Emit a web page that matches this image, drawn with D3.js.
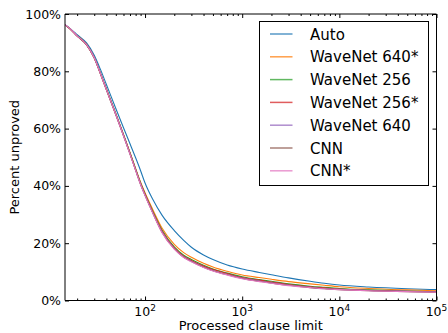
<!DOCTYPE html>
<html>
<head>
<meta charset="utf-8">
<script src="https://d3js.org/d3.v7.min.js"></script>
<style>
  body { margin: 0; background: #fff; }
  text { font-family: "DejaVu Sans", sans-serif; fill: #000; }
</style>
</head>
<body>
<div id="chart"></div>
<script>
// data (percent unproved vs clause limit)
var limits = [15, 17, 20, 25, 30, 35, 40, 50, 60, 70, 80, 90, 100, 120, 150, 200, 250, 300, 400, 500, 700, 1000, 1500, 2000, 3000, 5000, 7000, 10000, 20000, 50000, 100000];

var auto        = [96.3, 94.9, 92.8, 89.9, 85.6, 80.4, 75.4, 67.0, 60.3, 54.7, 49.8, 45.3, 41.0, 35.3, 29.7, 24.4, 21.0, 18.6, 15.9, 14.3, 12.4, 11.0, 9.8, 9.0, 7.9, 6.7, 6.0, 5.4, 4.7, 4.1, 3.8];
var wavenet640s = [96.2, 94.7, 92.4, 89.3, 84.6, 78.9, 73.6, 65.0, 57.8, 51.6, 46.0, 41.3, 37.6, 31.8, 25.2, 19.6, 16.7, 15.1, 13.0, 11.7, 10.2, 8.9, 8.0, 7.4, 6.6, 5.8, 5.3, 4.8, 4.2, 3.7, 3.4];
var wavenet256  = [96.3, 94.8, 92.5, 89.4, 84.8, 79.1, 73.9, 65.3, 58.0, 51.6, 45.9, 41.0, 37.2, 31.2, 24.5, 18.7, 15.8, 14.3, 12.3, 11.0, 9.6, 8.3, 7.3, 6.7, 5.8, 5.0, 4.6, 4.2, 3.7, 3.3, 3.1];
var wavenet256s = [96.2, 94.7, 92.4, 89.3, 84.7, 79.0, 73.8, 65.1, 57.8, 51.4, 45.7, 40.8, 37.0, 30.9, 24.2, 18.4, 15.5, 14.0, 12.0, 10.8, 9.4, 8.0, 7.1, 6.4, 5.6, 4.8, 4.4, 4.0, 3.6, 3.2, 3.0];
var wavenet640  = [96.3, 94.8, 92.4, 89.3, 84.7, 78.9, 73.6, 64.9, 57.6, 51.2, 45.5, 40.6, 36.8, 30.7, 23.9, 18.1, 15.2, 13.7, 11.7, 10.5, 9.1, 7.8, 6.8, 6.2, 5.4, 4.6, 4.2, 3.9, 3.5, 3.2, 3.0];
var cnn         = [96.2, 94.7, 92.3, 89.2, 84.6, 78.8, 73.5, 64.8, 57.5, 51.1, 45.4, 40.5, 36.7, 30.6, 23.7, 18.0, 15.1, 13.6, 11.6, 10.4, 9.0, 7.7, 6.7, 6.1, 5.3, 4.5, 4.1, 3.8, 3.4, 3.1, 2.9];
var cnns        = [96.3, 94.8, 92.4, 89.3, 84.7, 78.9, 73.6, 64.9, 57.5, 51.1, 45.4, 40.5, 36.6, 30.5, 23.6, 17.9, 15.0, 13.5, 11.5, 10.3, 8.9, 7.6, 6.6, 6.0, 5.2, 4.5, 4.1, 3.8, 3.4, 3.1, 2.9];

var seriesNames = ["Auto", "WaveNet 640*", "WaveNet 256", "WaveNet 256*", "WaveNet 640", "CNN", "CNN*"];
var seriesValues = [auto, wavenet640s, wavenet256, wavenet256s, wavenet640, cnn, cnns];
var colors = ["#1f77b4", "#ff7f0e", "#2ca02c", "#d62728", "#9467bd", "#8c564b", "#e377c2"];

var yTicks = [0, 20, 40, 60, 80, 100];
var xTicks = [100, 1000, 10000, 100000];
var xTickExp = ["2", "3", "4", "5"];

// Step 1: chart size
var svg_width = 448;
var svg_height = 333;
var margin = { top: 14, right: 11.5, bottom: 32.5, left: 65 };
var width = svg_width - margin.left - margin.right;
var height = svg_height - margin.top - margin.bottom;

var svg = d3.select("#chart").append("svg")
  .attr("width", svg_width)
  .attr("height", svg_height);

var chartGroup = svg.append("g")
  .attr("transform", `translate(${margin.left}, ${margin.top})`);

// Step 2: scales
var xScale = d3.scaleLog().domain([15, 100000]).range([0, width]);
var yScale = d3.scaleLinear().domain([0, 100]).range([height, 0]);

// Step 3: lines
var line = d3.line()
  .x(function(d, i) { return xScale(limits[i]); })
  .y(function(d) { return yScale(d); })
  .curve(d3.curveMonotoneX);

svg.append("clipPath").attr("id", "plotclip")
  .append("rect").attr("width", width).attr("height", height);

chartGroup.append("g")
  .attr("clip-path", "url(#plotclip)")
  .selectAll("path")
  .data(seriesValues)
  .enter()
  .append("path")
  .attr("d", d => line(d))
  .attr("fill", "none")
  .attr("stroke", (d, i) => colors[i])
  .attr("stroke-width", 1.1);

// Step 4: axes (ticks pointing inward on all four sides)
var minorTicks = [];
[10, 100, 1000, 10000].forEach(function(base) {
  for (var k = 2; k <= 9; k++) {
    var v = base * k;
    if (v >= 15 && v <= 100000) minorTicks.push(v);
  }
});

var bottomAxis = d3.axisBottom(xScale).tickValues(xTicks).tickSize(-4).tickFormat("");
var topAxis = d3.axisTop(xScale).tickValues(xTicks).tickSize(-4).tickFormat("");
var bottomMinor = d3.axisBottom(xScale).tickValues(minorTicks).tickSize(-2).tickFormat("");
var topMinor = d3.axisTop(xScale).tickValues(minorTicks).tickSize(-2).tickFormat("");
var leftAxis = d3.axisLeft(yScale).tickValues(yTicks).tickSize(-4).tickPadding(4).tickFormat(d => d + "%");
var rightAxis = d3.axisRight(yScale).tickValues(yTicks).tickSize(-4).tickFormat("");

function styleAxis(g) {
  g.select(".domain").remove();
  g.selectAll(".tick line").attr("stroke", "#000").attr("stroke-width", 1);
}

chartGroup.append("g").attr("transform", `translate(0, ${height})`).call(bottomAxis).call(styleAxis);
chartGroup.append("g").attr("transform", `translate(0, ${height})`).call(bottomMinor).call(styleAxis);
chartGroup.append("g").call(topAxis).call(styleAxis);
chartGroup.append("g").call(topMinor).call(styleAxis);
chartGroup.append("g").attr("transform", `translate(${width}, 0)`).call(rightAxis).call(styleAxis);

var leftG = chartGroup.append("g").call(leftAxis).call(styleAxis);
leftG.selectAll(".tick text")
  .style("font-family", "DejaVu Sans")
  .style("font-size", "12.5px")
  .attr("fill", "#000");

// x tick labels as 10^n
var xLabels = chartGroup.append("g").selectAll("text")
  .data(xTicks)
  .enter()
  .append("text")
  .attr("x", d => xScale(d))
  .attr("y", height + 15)
  .attr("text-anchor", "middle")
  .style("font-size", "12.5px");
xLabels.append("tspan").text("10");
xLabels.append("tspan")
  .attr("dy", -5)
  .style("font-size", "9px")
  .text((d, i) => xTickExp[i]);

// frame: left/top sit on whole pixels like the original (soft grey), right/bottom crisp
var frame = [
  [0, 0, 0, height],
  [0, 0, width, 0],
  [width, 0, width, height],
  [0, height, width, height]
];
chartGroup.selectAll("line.frame")
  .data(frame)
  .enter()
  .append("line")
  .attr("class", "frame")
  .attr("x1", d => d[0]).attr("y1", d => d[1])
  .attr("x2", d => d[2]).attr("y2", d => d[3])
  .attr("stroke", "#000")
  .attr("stroke-width", 1);

// axis titles
chartGroup.append("text")
  .attr("transform", "rotate(-90)")
  .attr("x", -height / 2)
  .attr("y", -margin.left + 19)
  .attr("text-anchor", "middle")
  .style("font-size", "13px")
  .text("Percent unproved");

chartGroup.append("text")
  .attr("x", width / 2)
  .attr("y", height + 29)
  .attr("text-anchor", "middle")
  .style("font-size", "13px")
  .text("Processed clause limit");

// Step 5: legend
var legend = chartGroup.append("g")
  .attr("transform", `translate(${259.5 - margin.left}, ${21.5 - margin.top})`);

legend.append("rect")
  .attr("width", 169)
  .attr("height", 164)
  .attr("fill", "#fff")
  .attr("stroke", "#000")
  .attr("stroke-width", 1);

var rows = legend.selectAll("g.row")
  .data(seriesNames)
  .enter()
  .append("g")
  .attr("class", "row")
  .attr("transform", (d, i) => `translate(0, ${12.5 + i * 22.8})`);

rows.append("line")
  .attr("x1", 10.5)
  .attr("x2", 33)
  .attr("stroke", (d, i) => colors[i])
  .attr("stroke-opacity", 0.75)
  .attr("stroke-width", 1.5);

rows.append("text")
  .attr("x", 50.5)
  .attr("y", 5.5)
  .style("font-size", "15px")
  .text(d => d);
</script>
</body>
</html>
